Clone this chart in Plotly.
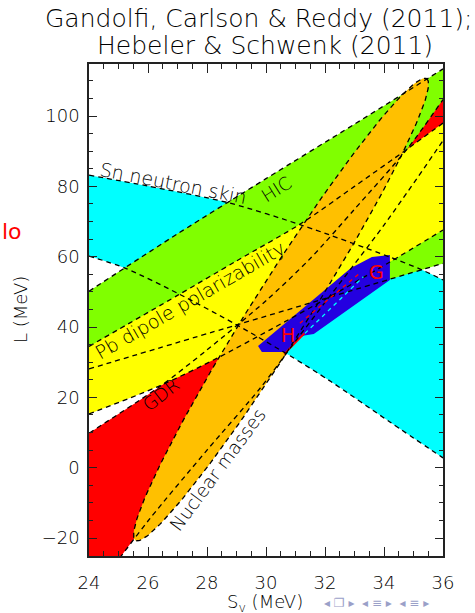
import numpy as np
import plotly.graph_objects as go

# ---------------- data ----------------
# Sn neutron skin (cyan)
sn_upper_S = [24, 26, 28.75, 31.2, 34.2, 35.3, 36]
sn_upper_L = [83.2, 80.1, 75.3, 69.0, 59.9, 56.2, 53.4]
sn_lower_S = [24, 25.24, 27.05, 28.97, 30.8, 32.2, 34.2, 36]
sn_lower_L = [60.2, 56.7, 49.4, 40.8, 31.9, 24.5, 13.0, 2.8]

# HIC (green)
hic_upper_S = [24, 27, 30, 33, 36]
hic_upper_L = [50.2, 66.5, 82.2, 97.7, 113.4]
hic_lower_S = [24, 29, 32, 36]
hic_lower_L = [28.1, 40.6, 48.1, 58.1]

# Pb dipole polarizability (yellow)
pb_upper_S = [24, 27, 29, 31.2, 33, 34.82, 36]
pb_upper_L = [34.5, 49.0, 58.8, 69.5, 80.0, 90.8, 98.0]
pb_lower_S = [24, 26.4, 28.33, 30.2, 32.2, 34.2, 36]
pb_lower_L = [15.3, 23.3, 31.1, 39.5, 48.8, 58.5, 67.6]

# GDR (red)
gdr_upper_S = [23, 24, 26.4, 28, 30, 31.5, 33, 34.82, 36]
gdr_upper_L = [4.3, 9.8, 23.1, 33.5, 47.5, 59.5, 73.5, 91.0, 104.7]
gdr_lower_S = [23, 25.1, 26.07, 28, 29.8, 31, 32, 34, 36]
gdr_lower_L = [-48, -25, -14.4, 5, 22.6, 36, 47, 69, 93]

# Nuclear masses ellipse (orange): centre and half-axis vectors
ell_center = (30.51, 44.98)
ell_major = (4.935, 65.65)
ell_minor = (0.803, -4.245)

# Neutron matter (blue), H and G
blue_S = [29.73, 29.86, 30.70, 31.15, 31.30, 31.62, 34.20, 34.20, 33.59, 32.88]
blue_L = [34.6, 32.9, 32.9, 37.0, 37.6, 38.0, 53.4, 60.5, 59.9, 56.8]
h_line_S = [31.15, 33.19]
h_line_L = [41.1, 55.4]
g_line_S = [31.32, 33.30]
g_line_L = [38.2, 54.3]
h_edge_S = [30.62, 31.30]
h_edge_L = [32.3, 38.2]

x_ticks = [24, 26, 28, 30, 32, 34, 36]
y_ticks = [-20, 0, 20, 40, 60, 80, 100]

CYAN = "#00FFFF"
GREEN = "#80FF00"
YELLOW = "#FFFF00"
RED = "#FF0000"
ORANGE = "#FFC000"
BLUE = "#2400E0"

fig = go.Figure()


def band(lower_S, lower_L, upper_S, upper_L, color):
    fig.add_trace(go.Scatter(x=lower_S, y=lower_L, mode="lines",
                             line=dict(width=0, color=color, shape="spline", smoothing=0.8),
                             hoverinfo="skip", showlegend=False))
    fig.add_trace(go.Scatter(x=upper_S, y=upper_L, mode="lines", fill="tonexty",
                             fillcolor=color,
                             line=dict(width=0, color=color, shape="spline", smoothing=0.8),
                             hoverinfo="skip", showlegend=False))


band(sn_lower_S, sn_lower_L, sn_upper_S, sn_upper_L, CYAN)
band(hic_lower_S, hic_lower_L, hic_upper_S, hic_upper_L, GREEN)
band(gdr_lower_S, gdr_lower_L, gdr_upper_S, gdr_upper_L, RED)
band(pb_lower_S, pb_lower_L, pb_upper_S, pb_upper_L, YELLOW)

t = np.linspace(0, 2 * np.pi, 241)
ell_S = ell_center[0] + ell_major[0] * np.cos(t) + ell_minor[0] * np.sin(t)
ell_L = ell_center[1] + ell_major[1] * np.cos(t) + ell_minor[1] * np.sin(t)
fig.add_trace(go.Scatter(x=ell_S, y=ell_L, mode="lines", fill="toself", fillcolor=ORANGE,
                         line=dict(width=0), hoverinfo="skip", showlegend=False))

fig.add_trace(go.Scatter(x=blue_S + blue_S[:1], y=blue_L + blue_L[:1], mode="lines",
                         fill="toself", fillcolor=BLUE, line=dict(width=0),
                         hoverinfo="skip", showlegend=False))
fig.add_trace(go.Scatter(x=h_edge_S, y=h_edge_L, mode="lines",
                         line=dict(width=2, color=RED), hoverinfo="skip", showlegend=False))

DASH = dict(color="black", width=1.3, dash="5px,4px", shape="spline", smoothing=0.8)
for xs, ys in [(sn_upper_S, sn_upper_L), (sn_lower_S, sn_lower_L),
               (hic_upper_S, hic_upper_L), (hic_lower_S, hic_lower_L),
               (pb_upper_S, pb_upper_L), (pb_lower_S, pb_lower_L),
               (gdr_upper_S, gdr_upper_L), (gdr_lower_S, gdr_lower_L)]:
    fig.add_trace(go.Scatter(x=xs, y=ys, mode="lines", line=DASH,
                             hoverinfo="skip", showlegend=False))
fig.add_trace(go.Scatter(x=ell_S, y=ell_L, mode="lines",
                         line=dict(color="black", width=1.3, dash="5px,4px"),
                         hoverinfo="skip", showlegend=False))
fig.add_trace(go.Scatter(x=h_line_S, y=h_line_L, mode="lines",
                         line=dict(color=RED, width=1.3, dash="4px,4px"),
                         hoverinfo="skip", showlegend=False))
fig.add_trace(go.Scatter(x=g_line_S, y=g_line_L, mode="lines",
                         line=dict(color=CYAN, width=1.3, dash="4px,4px"),
                         hoverinfo="skip", showlegend=False))

FONT = "DejaVu Sans"
W = 200  # light weight
labels = [
    ("Sn neutron skin", 26.85, 81.0, 11, "black", 19, W),
    ("HIC", 30.34, 79.0, -32, "black", 18, W),
    ("Pb dipole polarizability", 27.42, 47.8, -30, "black", 19, W),
    ("GDR", 26.44, 20.7, -38, "black", 18, W),
    ("Nuclear masses", 28.36, -0.4, -53.5, "black", 18.5, W),
    ("H", 30.75, 37.7, 0, RED, 19, 400),
    ("G", 33.76, 55.6, 0, RED, 19, 400),
]
for txt, xs, ys, ang, col, sz, wt in labels:
    fig.add_annotation(x=xs, y=ys, xref="x", yref="y", text=txt, showarrow=False,
                       textangle=ang, xanchor="center", yanchor="middle",
                       font=dict(family=FONT, size=sz, color=col, weight=wt))


# page-pixel helpers (plot area spans 89..443 x 64..556 on the page)
def px_x(p):
    return (p - 89) / 354.0


def px_y(p):
    return (556 - p) / 492.0


paper_texts = [
    ("Gandolfi, Carlson &amp; Reddy (2011);", 259, 19, 0, 25, "black", "center", W),
    ("Hebeler &amp; Schwenk (2011)", 265, 46, 0, 25, "black", "center", W),
    ("L (MeV)", 20, 310, -90, 18, "black", "center", W),
    ("S<sub>v</sub> (MeV)", 265, 603, 0, 18, "black", "center", W),
    ("lo", 0, 232, 0, 22, RED, "left", 400),
    ("◂ ❐ ▸  ◂ ≡ ▸  ◂ ≡ ▸", 322, 603, 0, 12, "#9aa0c8", "left", 400),
]
for txt, px, py, ang, sz, col, anc, wt in paper_texts:
    fig.add_annotation(x=px_x(px), y=px_y(py), xref="paper", yref="paper", text=txt,
                       showarrow=False, textangle=ang, xanchor=anc, yanchor="middle",
                       font=dict(family=FONT, size=sz, color=col, weight=wt))

axis_common = dict(showline=True, linecolor="#222", linewidth=1.5, mirror="allticks",
                   ticks="inside", tickcolor="#222", showgrid=False, zeroline=False,
                   tickfont=dict(family=FONT, size=18, color="black", weight=W))
fig.update_xaxes(range=[24, 36], tickvals=x_ticks, ticklen=9, tickwidth=1.3,
                 minor=dict(dtick=0.5, ticks="inside", ticklen=5, tickcolor="#222"),
                 ticklabelstandoff=10, **axis_common)
fig.update_yaxes(range=[-25.1, 114.8], tickvals=y_ticks, ticklen=8, tickwidth=1.3,
                 minor=dict(dtick=5, ticks="inside", ticklen=4, tickcolor="#222"),
                 ticklabelstandoff=4, **axis_common)

fig.update_layout(width=475, height=613, margin=dict(l=89, r=32, t=64, b=57),
                  paper_bgcolor="white", plot_bgcolor="white", showlegend=False)

fig.write_html("out.html", config={"displayModeBar": False},
               post_script="document.body.style.margin='0px';document.body.style.overflow='hidden';")
